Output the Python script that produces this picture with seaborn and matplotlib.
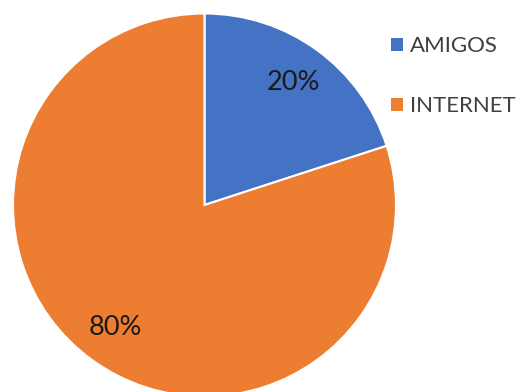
import matplotlib
matplotlib.use("Agg")
import matplotlib.pyplot as plt
import seaborn as sns

categories = ["AMIGOS", "INTERNET"]
values = [20, 80]
colors = ["#4472C4", "#ED7D31"]

sns.set_theme(style="white")
plt.rcParams["font.family"] = ["Lato", "DejaVu Sans"]

W, H, DPI = 521, 392, 100
fig = plt.figure(figsize=(W / DPI, H / DPI), dpi=DPI)

# pie geometry in pixels
cx, cy, r = 204.5, 205.0, 191.5
ax = fig.add_axes([(cx - r) / W, (H - cy - r) / H, 2 * r / W, 2 * r / H])

wedges, texts, autotexts = ax.pie(
    values,
    colors=colors,
    startangle=90,
    counterclock=False,
    autopct=lambda p: f"{p:.0f}%",
    pctdistance=0.79,
    wedgeprops=dict(edgecolor="white", linewidth=1.5),
    textprops=dict(fontsize=19.5, color="#1a1a1a"),
)
ax.set_xlim(-1, 1)
ax.set_ylim(-1, 1)
ax.set_aspect("auto")
ax.axis("off")

fs = 16
fs_px = fs * DPI / 72
leg = fig.legend(
    wedges, categories,
    loc="upper left",
    bbox_to_anchor=(391 / W, 1 - 36 / H),
    frameon=False,
    fontsize=fs,
    handlelength=12 / fs_px,
    handleheight=12 / fs_px,
    handletextpad=7 / fs_px,
    labelspacing=1.8,
    borderpad=0,
    borderaxespad=0,
    labelcolor="#404040",
)
for h in leg.legend_handles:
    h.set_edgecolor("none")

fig.savefig("out.png", dpi=DPI)
